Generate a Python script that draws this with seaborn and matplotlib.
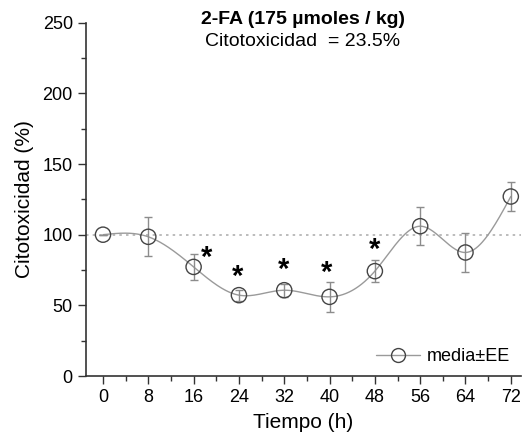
import numpy as np
import pandas as pd
import matplotlib
matplotlib.use("Agg")
import matplotlib.pyplot as plt
import seaborn as sns
from matplotlib.ticker import MultipleLocator
from matplotlib.lines import Line2D

# ---- data ----
tiempo = [0, 8, 16, 24, 32, 40, 48, 56, 64, 72]
media = [100, 98.5, 77.2, 57.2, 60.7, 56.0, 74.2, 106.0, 87.4, 127.0]
ee = [0, 13.8, 9.0, 4.0, 4.5, 10.8, 8.0, 13.5, 13.6, 10.5]
signif = [False, False, True, True, True, True, True, False, False, False]
star_dx = [0, 0, 2.3, -0.2, -0.2, -0.5, 0, 0, 0, 0]
star_y = [0, 0, 83.3, 70.1, 74.9, 72.7, 89.0, 0, 0, 0]
xticks = [0, 8, 16, 24, 32, 40, 48, 56, 64, 72]
yticks = [0, 50, 100, 150, 200, 250]
titulo = "2-FA (175 µmoles / kg)"
subtitulo = "Citotoxicidad  = 23.5%"
xlabel = "Tiempo (h)"
ylabel = "Citotoxicidad (%)"
leyenda = "media±EE"


def natural_spline(x, y, n=400):
    x = np.asarray(x, float)
    y = np.asarray(y, float)
    k = len(x)
    h = np.diff(x)
    A = np.zeros((k, k))
    b = np.zeros(k)
    A[0, 0] = 1
    A[-1, -1] = 1
    for i in range(1, k - 1):
        A[i, i - 1] = h[i - 1]
        A[i, i] = 2 * (h[i - 1] + h[i])
        A[i, i + 1] = h[i]
        b[i] = 3 * ((y[i + 1] - y[i]) / h[i] - (y[i] - y[i - 1]) / h[i - 1])
    c = np.linalg.solve(A, b)
    xs = np.linspace(x[0], x[-1], n)
    ys = np.empty_like(xs)
    for j, xv in enumerate(xs):
        i = min(np.searchsorted(x, xv, side="right") - 1, k - 2)
        dx = xv - x[i]
        bi = (y[i + 1] - y[i]) / h[i] - h[i] * (2 * c[i] + c[i + 1]) / 3
        di = (c[i + 1] - c[i]) / (3 * h[i])
        ys[j] = y[i] + bi * dx + c[i] * dx ** 2 + di * dx ** 3
    return xs, ys


sns.set_style("ticks")
plt.rcParams["font.family"] = ["Liberation Sans", "DejaVu Sans"]
plt.rcParams["text.color"] = "black"
plt.rcParams["axes.labelcolor"] = "black"
plt.rcParams["xtick.color"] = "black"
plt.rcParams["ytick.color"] = "black"

fig = plt.figure(figsize=(5.24, 4.48), dpi=100)
ax = fig.add_axes([86 / 524, (448 - 376) / 448, (521 - 86) / 524, (376 - 22.7) / 448])

ax.axhline(100, color="#b0b0b0", lw=1.2, ls=(0, (1.5, 2.5)), zorder=1)

xs, ys = natural_spline(tiempo, media)
curve = pd.DataFrame({"t": xs, "v": ys})
sns.lineplot(data=curve, x="t", y="v", ax=ax, color="#9a9a9a", lw=1.0, zorder=2)

ax.errorbar(tiempo, media, yerr=ee, fmt="none", ecolor="#8c8c8c", elinewidth=1.0,
            capsize=3, capthick=1.0, zorder=3)
df = pd.DataFrame({"t": tiempo, "v": media})
sns.scatterplot(data=df, x="t", y="v", ax=ax, s=120, marker="o", facecolor="none",
                edgecolor="#444444", linewidth=1.0, zorder=4)

for t, sg, dx, sy in zip(tiempo, signif, star_dx, star_y):
    if sg:
        ax.text(t + dx, sy, "*", ha="center", va="center", fontsize=21,
                fontweight="bold", color="black")

ax.set_xlim(-3, 73.8)
ax.set_ylim(0, 250)
ax.set_xticks(xticks)
ax.set_yticks(yticks)
ax.xaxis.set_minor_locator(MultipleLocator(4))
ax.yaxis.set_minor_locator(MultipleLocator(25))
ax.tick_params(axis="both", which="major", length=6, width=1.0, color="#333333",
               labelsize=13, labelcolor="black", direction="out")
ax.tick_params(axis="both", which="minor", length=3.5, width=1.0, color="#333333",
               direction="out")
ax.set_xlabel(xlabel, fontsize=15, labelpad=5)
ax.set_ylabel(ylabel, fontsize=15, labelpad=6)
for s in ["top", "right"]:
    ax.spines[s].set_visible(False)
for s in ["left", "bottom"]:
    ax.spines[s].set_color("#333333")
    ax.spines[s].set_linewidth(1.2)

fig.text(303 / 524, 1 - 19 / 448, titulo, ha="center", va="center", fontsize=14,
         fontweight="bold")
fig.text(303 / 524, 1 - 41 / 448, subtitulo, ha="center", va="center", fontsize=14)

h = Line2D([], [], color="#9a9a9a", lw=1.0, marker="o", markersize=10,
           markerfacecolor="none", markeredgecolor="#444444")
ax.legend([h], [leyenda], loc="lower right", frameon=False, fontsize=13,
          handlelength=2.4, handletextpad=0.4, borderaxespad=0.2)

fig.savefig("out.png", dpi=100)
